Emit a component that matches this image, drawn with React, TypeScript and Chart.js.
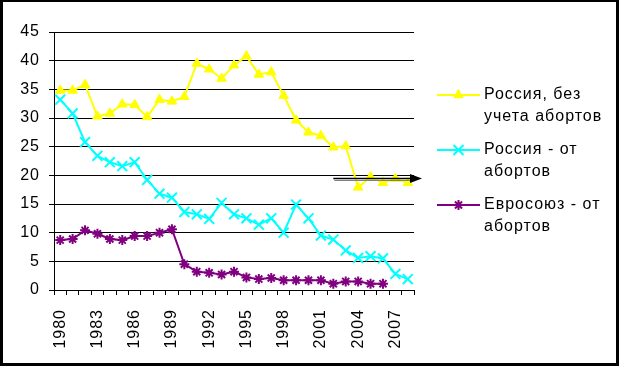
import { useEffect, useRef } from 'react';
import { Chart, registerables } from 'chart.js';
import { drawPoint } from 'chart.js/helpers';

Chart.register(...registerables);

const years = [
  '1980', '1981', '1982', '1983', '1984', '1985', '1986', '1987', '1988', '1989',
  '1990', '1991', '1992', '1993', '1994', '1995', '1996', '1997', '1998', '1999',
  '2000', '2001', '2002', '2003', '2004', '2005', '2006', '2007', '2008',
];

const russiaNoAbortion = [
  34.8, 34.8, 35.8, 30.3, 30.8, 32.4, 32.3, 30.2, 33.2, 32.9,
  33.7, 39.5, 38.5, 36.9, 39.2, 40.8, 37.6, 38.0, 33.9, 29.6,
  27.5, 26.9, 24.9, 25.1, 17.9, 19.7, 18.7, 19.4, 18.7,
];

const russiaAbortion = [
  33.2, 30.8, 25.8, 23.4, 22.3, 21.6, 22.3, 19.2, 16.8, 16.1,
  13.6, 13.2, 12.4, 15.2, 13.2, 12.5, 11.4, 12.5, 10.0, 14.9,
  12.5, 9.5, 8.8, 6.9, 5.6, 5.9, 5.5, 2.8, 1.9,
];

const euAbortion = [
  8.7, 8.9, 10.4, 9.8, 8.9, 8.7, 9.4, 9.4, 10.0, 10.6,
  4.5, 3.2, 3.0, 2.7, 3.2, 2.2, 1.9, 2.1, 1.7, 1.7,
  1.7, 1.7, 1.1, 1.5, 1.5, 1.1, 1.1, null, null,
];

const seriesNames = [
  ['Россия, без', 'учета абортов'],
  ['Россия - от', 'абортов'],
  ['Евросоюз - от', 'абортов'],
];

const yMin = 0;
const yMax = 45;
const yStep = 5;
const labelEvery = 3;

const arrowFromYear = '2002';
const arrowValue = 19.6;

const FONT = '"Liberation Sans", Arial, sans-serif';

const spacingPlugin = {
  id: 'spacing',
  beforeUpdate(chart: any) {
    chart.ctx.letterSpacing = '1px';
  },
  beforeDraw(chart: any) {
    chart.ctx.letterSpacing = '1px';
  },
};

const arrowPlugin = {
  id: 'arrow',
  afterDatasetsDraw(chart: any) {
    const { ctx, chartArea, scales } = chart;
    const x = scales.x.getPixelForValue(years.indexOf(arrowFromYear));
    const y = Math.round(scales.y.getPixelForValue(arrowValue)) + 0.5;
    const tip = chartArea.right + 8;
    ctx.save();
    ctx.strokeStyle = '#808080';
    ctx.lineWidth = 1;
    ctx.beginPath();
    ctx.moveTo(x + 1, y + 2);
    ctx.lineTo(tip - 10, y + 2);
    ctx.stroke();
    ctx.strokeStyle = '#000';
    ctx.lineWidth = 1.5;
    ctx.beginPath();
    ctx.moveTo(x, y);
    ctx.lineTo(tip - 10, y);
    ctx.stroke();
    ctx.fillStyle = '#000';
    ctx.beginPath();
    ctx.moveTo(tip, y);
    ctx.lineTo(tip - 12, y - 4.5);
    ctx.lineTo(tip - 12, y + 4.5);
    ctx.closePath();
    ctx.fill();
    ctx.restore();
  },
};

const legendPlugin = {
  id: 'customLegend',
  afterDraw(chart: any) {
    const { ctx, chartArea } = chart;
    const x0 = chartArea.right + 23;
    const x1 = x0 + 43;
    const tx = x1 + 4;
    const ys = [chartArea.top + 63, chartArea.top + 118, chartArea.top + 173];
    ctx.save();
    ctx.letterSpacing = '1px';
    chart.data.datasets.forEach((ds: any, i: number) => {
      const y = ys[i];
      ctx.strokeStyle = ds.borderColor;
      ctx.lineWidth = 2;
      ctx.beginPath();
      ctx.moveTo(x0, y);
      ctx.lineTo(x1, y);
      ctx.stroke();
      ctx.fillStyle = ds.pointBackgroundColor;
      ctx.strokeStyle = ds.pointBorderColor;
      ctx.lineWidth = ds.pointBorderWidth;
      drawPoint(ctx, { pointStyle: ds.pointStyle, rotation: 0, radius: ds.pointRadius, borderWidth: ds.pointBorderWidth }, (x0 + x1) / 2, y);
      ctx.fillStyle = '#000';
      ctx.font = `16px ${FONT}`;
      ctx.textBaseline = 'middle';
      ctx.textAlign = 'left';
      seriesNames[i].forEach((line, k) => {
        ctx.fillText(line, tx, y + k * 22);
      });
    });
    ctx.restore();
  },
};

export default function App() {
  const ref = useRef<HTMLCanvasElement>(null);

  useEffect(() => {
    if (!ref.current) return;
    Chart.defaults.font.family = FONT;
    Chart.defaults.font.size = 16;
    Chart.defaults.color = '#000';
    const chart = new Chart(ref.current, {
      type: 'line',
      data: {
        labels: years,
        datasets: [
          {
            label: seriesNames[0].join(' '),
            data: russiaNoAbortion,
            borderColor: '#FFFF00',
            backgroundColor: '#FFFF00',
            borderWidth: 2,
            pointStyle: 'triangle',
            pointRadius: 5.5,
            pointBorderWidth: 1,
            pointBackgroundColor: '#FFFF00',
            pointBorderColor: '#FFFF00',
            tension: 0,
            order: 3,
          },
          {
            label: seriesNames[1].join(' '),
            data: russiaAbortion,
            borderColor: '#00FFFF',
            backgroundColor: '#00FFFF',
            borderWidth: 2,
            pointStyle: 'crossRot',
            pointRadius: 7,
            pointBorderWidth: 2,
            pointBackgroundColor: '#00FFFF',
            pointBorderColor: '#00FFFF',
            tension: 0,
            order: 2,
          },
          {
            label: seriesNames[2].join(' '),
            data: euAbortion,
            borderColor: '#800080',
            backgroundColor: '#800080',
            borderWidth: 2,
            pointStyle: 'star',
            pointRadius: 5,
            pointBorderWidth: 2,
            pointBackgroundColor: '#800080',
            pointBorderColor: '#800080',
            tension: 0,
            order: 1,
          },
        ] as any,
      },
      options: {
        animation: false,
        responsive: false,
        events: [],
        layout: { padding: { top: 30, left: 0, right: 202, bottom: 0 } },
        plugins: {
          legend: { display: false },
          tooltip: { enabled: false },
          title: { display: false },
        },
        scales: {
          x: {
            type: 'category',
            offset: true,
            grid: {
              offset: true,
              drawOnChartArea: false,
              drawTicks: true,
              tickLength: 5,
              color: '#000',
            },
            border: { display: true, color: '#000', width: 1 },
            ticks: {
              autoSkip: false,
              minRotation: 90,
              maxRotation: 90,
              padding: 14,
              color: '#000',
              font: { size: 16, family: FONT },
              callback: (_v: any, i: number) => (i % labelEvery === 0 ? years[i] : ''),
            },
            afterFit: (scale: any) => {
              scale.height = 73;
            },
          },
          y: {
            min: yMin,
            max: yMax,
            grid: {
              color: '#000',
              drawTicks: true,
              tickLength: 5,
              lineWidth: 1,
            },
            border: { display: true, color: '#000', width: 1 },
            ticks: {
              stepSize: yStep,
              padding: 9,
              color: '#000',
              font: { size: 16, family: FONT },
            },
            afterFit: (scale: any) => {
              scale.width = 51;
            },
          },
        },
      } as any,
      plugins: [spacingPlugin, arrowPlugin, legendPlugin],
    });
    return () => chart.destroy();
  }, []);

  return (
    <div
      style={{
        position: 'absolute',
        left: 0,
        top: 0,
        width: 619,
        height: 366,
        boxSizing: 'border-box',
        borderStyle: 'solid',
        borderColor: '#000',
        borderWidth: '2px 3px 3px 3px',
        background: '#fff',
      }}
    >
      <canvas ref={ref} width={613} height={361} style={{ display: 'block' }} />
    </div>
  );
}
